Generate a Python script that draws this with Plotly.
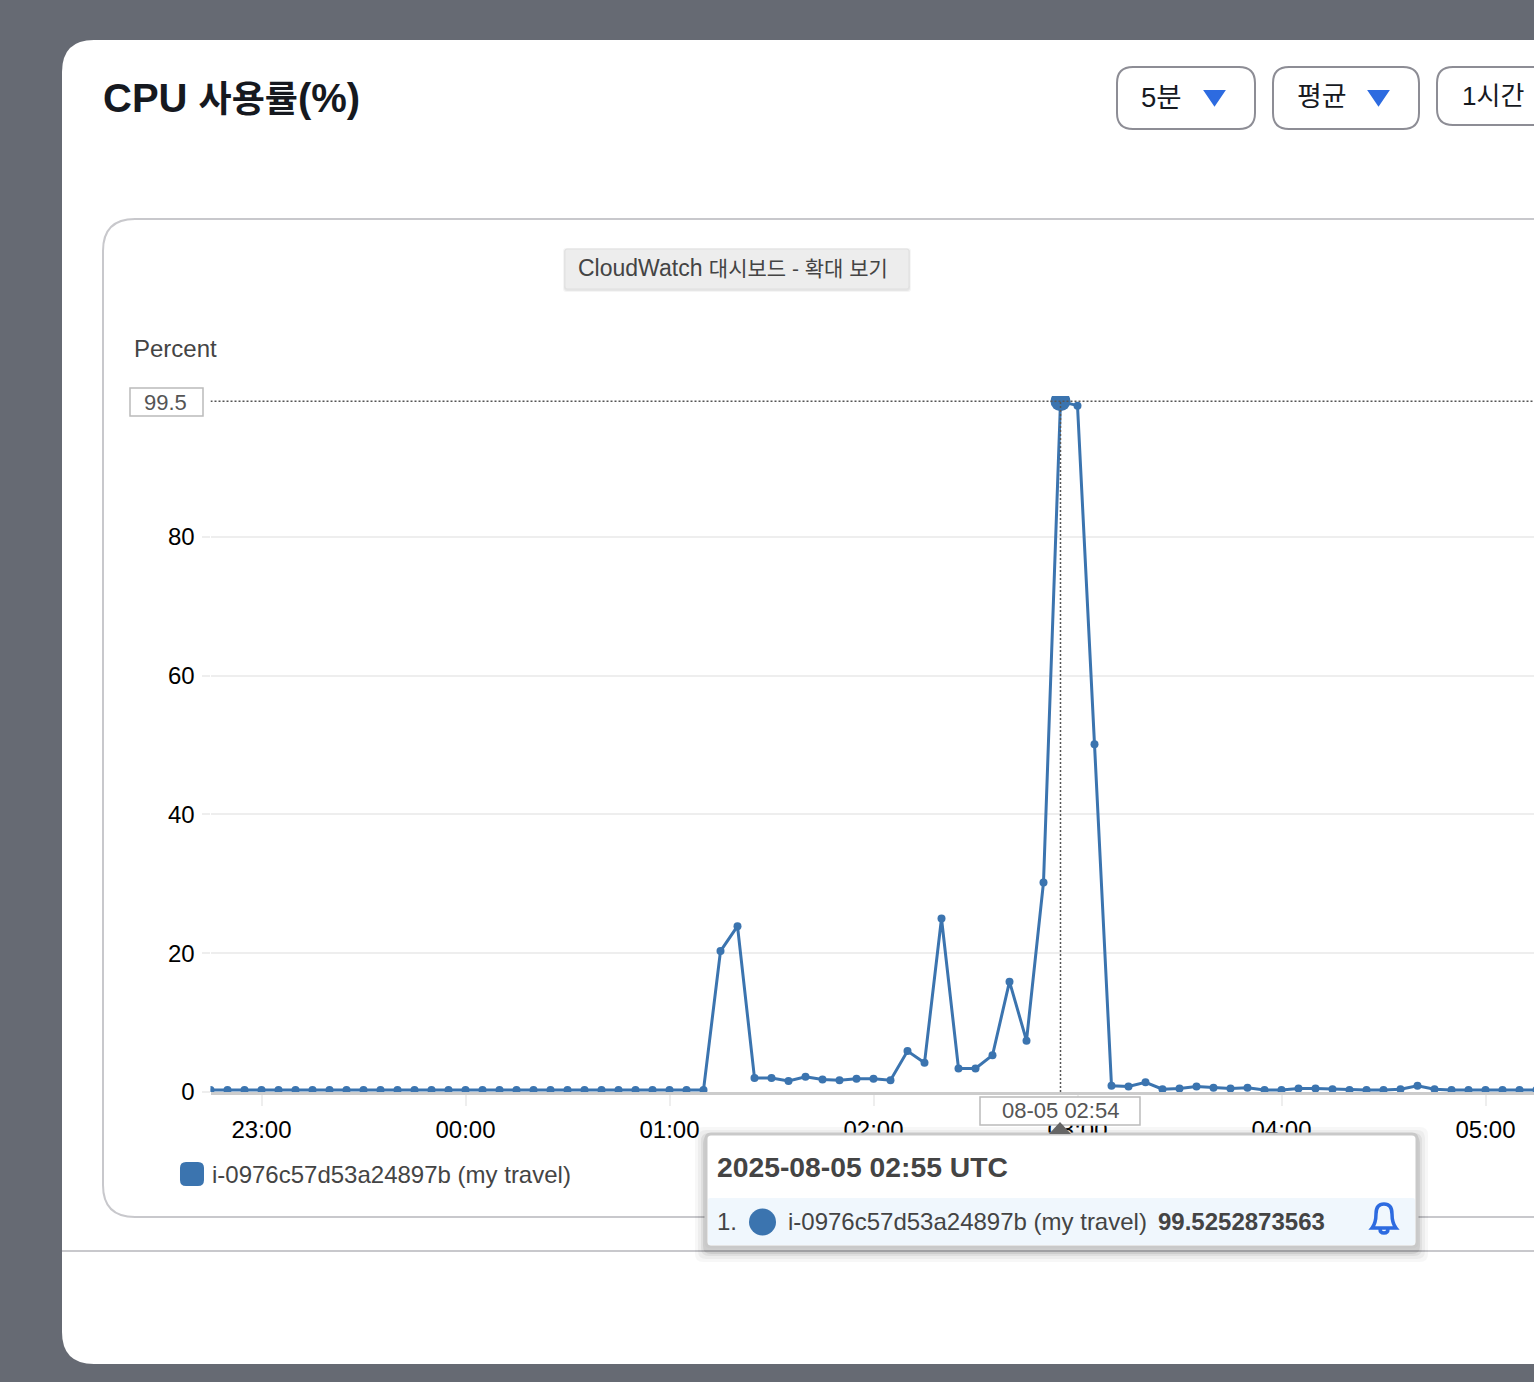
import plotly.graph_objects as go
import pandas as pd

# ---------- data ----------
start_time = "2025-08-04 22:45"
cpu_values = [
    0.3, 0.3, 0.3, 0.3, 0.3, 0.3, 0.3, 0.3, 0.3, 0.3,
    0.3, 0.3, 0.3, 0.3, 0.3, 0.3, 0.3, 0.3, 0.3, 0.3,
    0.3, 0.3, 0.3, 0.3, 0.3, 0.3, 0.3, 0.3, 0.3, 0.3,
    20.3, 23.9, 2.0, 2.0, 1.6, 2.2, 1.8, 1.7, 1.9, 1.9,
    1.7, 5.9, 4.2, 25.0, 3.4, 3.4, 5.3, 15.9, 7.4, 30.2,
    99.5252873563, 98.9, 50.1, 0.9, 0.8, 1.4, 0.4, 0.5, 0.8, 0.6,
    0.5, 0.6, 0.3, 0.3, 0.5, 0.5, 0.4, 0.3, 0.3, 0.3,
    0.4, 0.9, 0.4, 0.3, 0.3, 0.3, 0.3, 0.3, 0.3,
]
times = pd.date_range(start_time, periods=len(cpu_values), freq="5min")
peak_time = ["2025-08-05 02:55"]
peak_value = [99.5252873563]
x_tick_times = ["2025-08-04 23:00", "2025-08-05 00:00", "2025-08-05 01:00", "2025-08-05 02:00",
                "2025-08-05 03:00", "2025-08-05 04:00", "2025-08-05 05:00"]
x_tick_labels = ["23:00", "00:00", "01:00", "02:00", "03:00", "04:00", "05:00"]
y_ticks = [0, 20, 40, 60, 80]
series_name = "i-0976c57d53a24897b (my travel)"

# ---------- page geometry ----------
W, H = 1534, 1382
BLUE = "#3b74af"
ACCENT = "#2d6be0"
DARK = "#16191f"
TXT = "#444444"
SANS = "Liberation Sans, Noto Sans CJK KR, sans-serif"


def px(x):
    return x / W


def py(y):
    return 1 - y / H


def P(x, y):
    return f"{px(x):.6f},{py(y):.6f}"


def rrect(x0, y0, x1, y1, r):
    k = r
    return (f"M{P(x0 + k, y0)} L{P(x1 - k, y0)} Q{P(x1, y0)} {P(x1, y0 + k)} "
            f"L{P(x1, y1 - k)} Q{P(x1, y1)} {P(x1 - k, y1)} L{P(x0 + k, y1)} "
            f"Q{P(x0, y1)} {P(x0, y1 - k)} L{P(x0, y0 + k)} Q{P(x0, y0)} {P(x0 + k, y0)} Z")


shapes = []


def box(x0, y0, x1, y1, r, fill="rgba(0,0,0,0)", line=None, lw=2, layer="above", opacity=1):
    shapes.append(dict(type="path", xref="paper", yref="paper", path=rrect(x0, y0, x1, y1, r),
                       fillcolor=fill, opacity=opacity, layer=layer,
                       line=dict(color=line or "rgba(0,0,0,0)", width=lw if line else 0)))


def poly(pts, fill, line=None, lw=2, layer="above", close=True):
    d = "M" + " L".join(P(*p) for p in pts) + (" Z" if close else "")
    shapes.append(dict(type="path", xref="paper", yref="paper", path=d, fillcolor=fill, layer=layer,
                       line=dict(color=line or "rgba(0,0,0,0)", width=lw if line else 0, )))


notes = []


def text(x, y, s, size, color=TXT, anchor="left", bold=False):
    notes.append(dict(xref="paper", yref="paper", x=px(x), y=py(y), text=f"<b>{s}</b>" if bold else s,
                      showarrow=False, xanchor=anchor, yanchor="middle", xshift=0,
                      font=dict(family=SANS, size=size, color=color), borderpad=0, borderwidth=0))


# page card and chart panel (under the plot)
box(62, 40, 1600, 1364, 32, fill="#ffffff", layer="below")
box(103, 219, 1600, 1217, 32, line="#c8c8cc", lw=2, layer="below")
shapes.append(dict(type="line", xref="paper", yref="paper", x0=px(62), x1=1, y0=py(1251), y1=py(1251),
                   line=dict(color="#c8c8cc", width=2), layer="below"))

# header
text(103, 98, "<b>CPU <span style='font-size:36px'>사용률</span>(%)</b>", 40, DARK)
box(1117, 67, 1255, 129, 16, fill="#ffffff", line="#8d8d95")
text(1141, 97, "5분", 27.5, DARK)
poly([(1205, 91), (1224, 91), (1214.5, 105)], ACCENT, line=ACCENT, lw=2)
box(1273, 67, 1419, 129, 16, fill="#ffffff", line="#8d8d95")
text(1297, 97, "평균", 27, DARK)
poly([(1369, 91), (1388, 91), (1378.5, 105)], ACCENT, line=ACCENT, lw=2)
box(1437, 67, 1600, 125, 16, fill="#ffffff", line="#8d8d95")
text(1462, 96, "1시간", 26, DARK)

# browser tooltip
for grow, op in ((2, 0.04), (1, 0.06)):
    box(565 - grow, 249 - grow + 1, 909 + grow, 289 + grow + 1, 3, fill="#000000", opacity=op)
box(565, 249, 909, 289, 2, fill="#ededed", line="#e0e0e0", lw=1)
text(578, 268, "CloudWatch <span style='font-size:21px'>대시보드 - 확대 보기</span>", 23, TXT)

text(134, 349, "Percent", 24, TXT)

# peak guides, from the data
GUIDE = dict(color="#555555", width=1.5, dash="2px,2px")
shapes.append(dict(type="line", xref="x", yref="y", x0=times[0], x1=times[-1], y0=peak_value[0], y1=peak_value[0],
                   line=GUIDE, layer="above"))
shapes.append(dict(type="line", xref="x", yref="y", x0=peak_time[0], x1=peak_time[0], y0=0, y1=peak_value[0],
                   line=GUIDE, layer="above"))

box(130, 388, 203, 416, 0, fill="#ffffff", line="#bbbbbb", lw=1.5)
text(165.5, 402, "99.5", 22, "#555555", anchor="center")

box(980, 1097, 1140, 1125, 0, fill="#ffffff", line="#bbbbbb", lw=1.5)
text(1060, 1110, "08-05 02:54", 22, "#555555", anchor="center")

# legend
box(180, 1162, 204, 1186, 6, fill=BLUE)
text(212, 1174, series_name, 24, TXT)

# hover card
for grow, op in ((10, 0.03), (7, 0.04), (4, 0.06), (2, 0.08)):
    box(705 - grow, 1133 - grow + 4, 1418 + grow, 1248 + grow + 4, 8, fill="#000000", opacity=op)
box(706, 1134, 1417, 1247, 5, fill="#ffffff", line="#c9c9c9", lw=3)
box(708, 1198, 1415, 1245, 2, fill="#f0f7fd")
text(717, 1167, "2025-08-05 02:55 UTC", 28.3, TXT, bold=True)
text(717, 1221, "1.", 24, TXT)
shapes.append(dict(type="circle", xref="paper", yref="paper", x0=px(749), x1=px(776), y0=py(1235.5), y1=py(1208.5),
                   fillcolor=BLUE, line=dict(width=0), layer="above"))
text(788, 1221, series_name, 24, TXT)
text(1158, 1221, "99.5252873563", 24, TXT, bold=True)
shapes.append(dict(type="path", xref="paper", yref="paper", fillcolor="rgba(0,0,0,0)", layer="above",
                   line=dict(color=ACCENT, width=3.5),
                   path=(f"M{P(1372, 1228)} Q{P(1376, 1223)} {P(1376, 1214)} Q{P(1376, 1204)} {P(1384, 1204)} "
                         f"Q{P(1392, 1204)} {P(1392, 1214)} Q{P(1392, 1223)} {P(1396, 1228)} Z "
                         f"M{P(1380, 1229)} Q{P(1380, 1233)} {P(1384, 1233)} Q{P(1388, 1233)} {P(1388, 1229)}")))
poly([(1060, 1122), (1049, 1134), (1071, 1134)], "#666666")

# ---------- figure ----------
fig = go.Figure()
fig.add_trace(go.Scatter(x=times, y=cpu_values, mode="lines+markers", name=series_name,
                         line=dict(color=BLUE, width=3), marker=dict(color=BLUE, size=8), showlegend=False))
fig.add_trace(go.Scatter(x=peak_time, y=peak_value, mode="markers", name=series_name,
                         marker=dict(color=BLUE, size=20), showlegend=False))

X_LEFT, PLOT_TOP, PLOT_BOTTOM = 210.5, 396, 1092
UNIT_PX = 6.94          # pixels per percent
MIN_PX = 3.4            # pixels per minute
x_end = pd.Timestamp(start_time) + pd.Timedelta(minutes=(W - X_LEFT) / MIN_PX)

fig.update_layout(
    width=W, height=H, autosize=False,
    margin=dict(l=0, r=0, t=0, b=0, pad=0),
    paper_bgcolor="#666a73", plot_bgcolor="rgba(0,0,0,0)",
    showlegend=False, shapes=shapes, annotations=notes,
    font=dict(family=SANS, size=24, color="#000000"),
    xaxis=dict(domain=[px(X_LEFT), 1], type="date", range=[pd.Timestamp(start_time), x_end], automargin=False,
               tickmode="array", tickvals=x_tick_times, ticktext=x_tick_labels, tickangle=0,
               showgrid=False, zeroline=False, showline=True, linecolor="#cccccc", linewidth=3,
               ticks="outside", ticklen=11, tickwidth=2, tickcolor="#eeeeee", ticklabelstandoff=3,
               tickfont=dict(family=SANS, size=24, color="#000000")),
    yaxis=dict(domain=[py(PLOT_BOTTOM), py(PLOT_TOP)], range=[0, (PLOT_BOTTOM - PLOT_TOP) / UNIT_PX], automargin=False,
               tickmode="array", tickvals=y_ticks, showgrid=True, gridcolor="#eeeeee", gridwidth=2,
               zeroline=False, showline=False, ticks="outside", ticklen=8, tickwidth=2, tickcolor="#eeeeee",
               ticklabelstandoff=2, tickfont=dict(family=SANS, size=24, color="#000000")),
    hovermode=False,
)
fig.write_html("out.html", config=dict(displayModeBar=False),
               post_script="document.documentElement.style.overflow='hidden';"
                           "document.body.style.margin='0';document.body.style.overflow='hidden';")
